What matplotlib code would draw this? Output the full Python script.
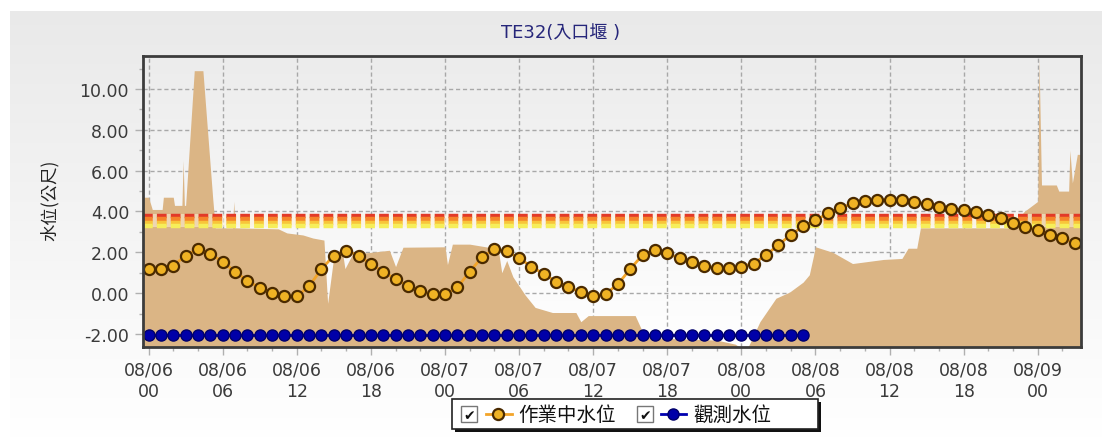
import numpy as np
import matplotlib
matplotlib.use("Agg")
import matplotlib.pyplot as plt
from matplotlib.patches import Rectangle
from matplotlib.lines import Line2D

plt.rcParams['lines.scale_dashes'] = False

# ---------------- data ----------------
title = "TE32(入口堰 )"
ylabel = "水位(公尺)"
series_names = ["作業中水位", "觀測水位"]

# hours from 08/06 00:00
op_hours = list(range(0, 76))
op_values = [1.18, 1.18, 1.35, 1.84, 2.17, 1.92, 1.54, 1.05, 0.61, 0.26,
             0.02, -0.15, -0.15, 0.34, 1.18, 1.84, 2.08, 1.84, 1.43, 1.05,
             0.69, 0.36, 0.11, -0.05, -0.05, 0.28, 1.05, 1.76, 2.17, 2.04,
             1.71, 1.30, 0.94, 0.56, 0.28, 0.06, -0.15, -0.05, 0.44, 1.18,
             1.87, 2.12, 1.95, 1.71, 1.54, 1.35, 1.22, 1.22, 1.30, 1.45,
             1.87, 2.36, 2.86, 3.27, 3.56, 3.92, 4.15, 4.40, 4.50, 4.58,
             4.58, 4.57, 4.47, 4.38, 4.22, 4.14, 4.06, 3.97, 3.85, 3.66,
             3.43, 3.22, 3.10, 2.86, 2.69, 2.45]

obs_hours = list(range(0, 54))
obs_values = [-2.05] * 54

area_hours = [-0.5, 0.0, 0.3, 1.1, 1.2, 2.0, 2.1, 2.7, 2.8, 2.9, 3.0, 3.7, 4.4,
              5.2, 5.4, 6.8, 6.9, 7.0, 10.5, 11.2, 12.5, 13.3, 14.2, 14.5,
              15.0, 15.7, 15.9, 16.5, 19.5, 20.0, 20.6, 24.0, 24.2, 24.6,
              26.0, 27.0, 28.0, 28.3, 28.6, 29.0, 29.5, 30.5, 31.3, 32.7,
              34.6, 35.0, 35.6, 39.4, 40.0, 41.0, 46.0, 47.5, 48.0, 48.5,
              49.5, 50.8, 51.9, 53.0, 53.5, 54.0, 55.4, 57.0, 59.5, 61.0,
              61.5, 62.2, 62.5, 69.8, 70.9, 72.0, 72.1, 72.3, 73.5, 73.7,
              74.5, 74.6, 74.8, 75.2, 75.6]
area_values = [4.7, 4.7, 4.1, 4.1, 4.7, 4.7, 4.3, 4.3, 6.5, 4.3, 4.3, 10.9, 10.9,
               4.6, 3.2, 3.2, 4.5, 3.2, 3.15, 2.95, 2.85, 2.7, 2.6, -0.5,
               1.8, 2.0, 1.2, 1.9, 2.1, 1.3, 2.25, 2.27, 1.4, 2.4,
               2.4, 2.3, 2.2, 2.2, 1.0, 1.6, 0.8, -0.1, -0.7, -0.95,
               -0.95, -1.4, -1.1, -1.1, -1.9, -2.2, -2.3, -2.5, -2.7, -2.7,
               -1.4, -0.25, 0.05, 0.54, 0.9, 2.27, 2.0, 1.45, 1.65, 1.7,
               2.2, 2.2, 3.2, 3.2, 4.0, 4.5, 11.5, 5.3, 5.3, 5.0,
               5.0, 7.0, 5.4, 6.8, 6.8]

threshold_values = [3.80, 3.63, 3.46, 3.30]
threshold_colors = ['#E23A28', '#F5842A', '#F8C53A', '#F6EE5A']

xtick_hours = [0, 6, 12, 18, 24, 30, 36, 42, 48, 54, 60, 66, 72]
xtick_labels = ["08/06\n00", "08/06\n06", "08/06\n12", "08/06\n18",
                "08/07\n00", "08/07\n06", "08/07\n12", "08/07\n18",
                "08/08\n00", "08/08\n06", "08/08\n12", "08/08\n18",
                "08/09\n00"]
ytick_values = [-2, 0, 2, 4, 6, 8, 10]

# ---------------- figure ----------------
W, H = 1102, 439
fig = plt.figure(figsize=(W / 100, H / 100), dpi=100)
fig.patch.set_facecolor('white')

def fx(px):
    return px / W

def fy(py):
    return 1 - py / H

# background panel gradient
bg = fig.add_axes([fx(10), 0, 1 - fx(10), fy(12)], zorder=-10)
grad = np.linspace(0, 1, 256).reshape(-1, 1)
top_c = np.array([0.915, 0.915, 0.915])
bot_c = np.array([1.0, 1.0, 1.0])
img = top_c[None, None, :] * (1 - grad[:, :, None]) + bot_c[None, None, :] * grad[:, :, None]
img = np.clip(img, 0, 1)
bg.imshow(img, aspect='auto', extent=[0, 1, 0, 1], origin='upper')
bg.set_axis_off()

ax = fig.add_axes([fx(143), fy(348), fx(1081 - 143), (348 - 57) / H], zorder=1)
ax.patch.set_alpha(0)
top_a = np.array([0.925, 0.925, 0.925])
bot_a = np.array([1.0, 1.0, 1.0])
img2 = top_a[None, None, :] * (1 - grad[:, :, None]) + bot_a[None, None, :] * grad[:, :, None]
ax.imshow(np.clip(img2, 0, 1), aspect='auto', extent=[0, 1, 0, 1], origin='upper',
          transform=ax.transAxes, zorder=0)

XMIN, XMAX = -0.45, 75.5
YMIN, YMAX = -2.64, 11.62

# grid
ax.set_axisbelow(False)
for h in xtick_hours:
    ax.axvline(h, color='#A8A8A8', lw=1.0, ls=(0, (3, 2)), zorder=1)
for v in ytick_values:
    ax.axhline(v, color='#A8A8A8', lw=1.0, ls=(0, (3, 2)), zorder=1)

# area
ax.fill_between(area_hours, area_values, YMIN - 1, color='#DBB585', lw=0, zorder=2)

# thresholds
ax.axhspan(3.22, 3.88, color='#FFF2D8', alpha=0.55, lw=0, zorder=3)
for v, c in zip(threshold_values, threshold_colors):
    ax.axhline(v, color=c, lw=3.2, ls=(0, (7, 3)), zorder=4)

# series
ax.plot(op_hours, op_values, color='#F3A52A', lw=2.0, marker='o', markersize=8,
        markerfacecolor='#EFB224', markeredgecolor='#4A2A00', markeredgewidth=1.6,
        zorder=6)
ax.plot(obs_hours, obs_values, color='#0000B0', lw=2.0, marker='o', markersize=8,
        markerfacecolor='#0000A8', markeredgecolor='#00006A', markeredgewidth=1.0,
        zorder=5)

ax.set_xlim(XMIN, XMAX)
ax.set_ylim(YMIN, YMAX)

ax.set_xticks(xtick_hours)
ax.set_xticklabels(xtick_labels, fontsize=12.5, color='#3A3A3A', linespacing=1.25)
ax.set_xticks(np.arange(0, 76, 2), minor=True)
ax.set_yticks(ytick_values)
ax.set_yticklabels([f"{v:.2f}" for v in ytick_values], fontsize=12.5, color='#3A3A3A')
ax.set_yticks(np.arange(-2, 12, 1), minor=True)
ax.tick_params(axis='both', which='major', length=6, width=1, color='#B0B0B0', pad=4)
ax.tick_params(axis='both', which='minor', length=3, width=1, color='#B0B0B0')
for s in ax.spines.values():
    s.set_color('#3C3C3C')
    s.set_linewidth(2.0)
    s.set_zorder(8)

# y label
fig.text(fx(50), fy(200), ylabel, rotation=90, ha='center', va='center',
         fontsize=12.5, color='#222222',
         family=['Noto Sans CJK TC', 'DejaVu Sans'])

# title
fig.text(fx(561), fy(33), title, ha='center', va='center', fontsize=13,
         color='#26267A', family=['DejaVu Sans', 'Noto Sans CJK TC'])

# legend (manual)
lx0, lx1, ly0, ly1 = 452, 818, 400, 430
fig.add_artist(Rectangle((fx(lx0 + 3), fy(ly1 + 3)), fx(lx1 - lx0), (ly1 - ly0) / H,
                         transform=fig.transFigure, facecolor='#111111',
                         edgecolor='none', zorder=20))
fig.add_artist(Rectangle((fx(lx0), fy(ly1)), fx(lx1 - lx0), (ly1 - ly0) / H,
                         transform=fig.transFigure, facecolor='white',
                         edgecolor='#222222', lw=1.2, zorder=21))
cy = 415

def checkbox(x0):
    fig.add_artist(Rectangle((fx(x0), fy(cy + 8)), fx(16), 16 / H,
                             transform=fig.transFigure, facecolor='white',
                             edgecolor='#777777', lw=1.0, zorder=22))
    fig.text(fx(x0 + 8), fy(cy + 1), '✔', ha='center', va='center',
             fontsize=10, color='#111111', family='DejaVu Sans', zorder=23)

checkbox(461)
fig.add_artist(Line2D([fx(486), fx(512)], [fy(cy), fy(cy)], transform=fig.transFigure,
                      color='#F3A52A', lw=2.0, marker=None, zorder=22))
fig.add_artist(Line2D([fx(498)], [fy(cy)], transform=fig.transFigure, marker='o',
                      markersize=8, markerfacecolor='#EFB224',
                      markeredgecolor='#4A2A00', markeredgewidth=1.6, zorder=23))
fig.text(fx(518), fy(cy), series_names[0], ha='left', va='center', fontsize=14,
         color='#111111', family=['Noto Sans CJK TC', 'DejaVu Sans'], zorder=23)

checkbox(637)
fig.add_artist(Line2D([fx(661), fx(686)], [fy(cy), fy(cy)], transform=fig.transFigure,
                      color='#0000B0', lw=2.0, zorder=22))
fig.add_artist(Line2D([fx(673)], [fy(cy)], transform=fig.transFigure, marker='o',
                      markersize=8, markerfacecolor='#0000A8',
                      markeredgecolor='#00006A', markeredgewidth=1.0, zorder=23))
fig.text(fx(693), fy(cy), series_names[1], ha='left', va='center', fontsize=14,
         color='#111111', family=['Noto Sans CJK TC', 'DejaVu Sans'], zorder=23)

fig.savefig('out.png', dpi=100)
